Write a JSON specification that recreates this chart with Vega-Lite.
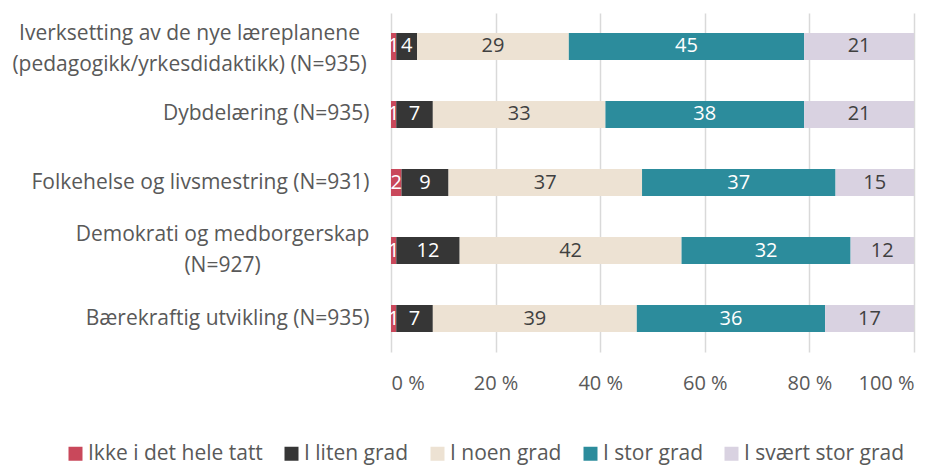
{
  "$schema": "https://vega.github.io/schema/vega-lite/v6.json",
  "width": 523,
  "height": 339,
  "autosize": {"type": "none"},
  "padding": {"left": 391, "top": 13, "right": 33, "bottom": 116},
  "background": "white",
  "config": {"font": "Open Sans", "view": {"stroke": null}},
  "data": {
    "values": [
      {"q": "Iverksetting av de nye læreplanene (pedagogikk/yrkesdidaktikk) (N=935)", "cat": "Ikke i det hele tatt", "k": 1, "pct": 1},
      {"q": "Iverksetting av de nye læreplanene (pedagogikk/yrkesdidaktikk) (N=935)", "cat": "I liten grad", "k": 2, "pct": 4},
      {"q": "Iverksetting av de nye læreplanene (pedagogikk/yrkesdidaktikk) (N=935)", "cat": "I noen grad", "k": 3, "pct": 29},
      {"q": "Iverksetting av de nye læreplanene (pedagogikk/yrkesdidaktikk) (N=935)", "cat": "I stor grad", "k": 4, "pct": 45},
      {"q": "Iverksetting av de nye læreplanene (pedagogikk/yrkesdidaktikk) (N=935)", "cat": "I svært stor grad", "k": 5, "pct": 21},
      {"q": "Dybdelæring (N=935)", "cat": "Ikke i det hele tatt", "k": 1, "pct": 1},
      {"q": "Dybdelæring (N=935)", "cat": "I liten grad", "k": 2, "pct": 7},
      {"q": "Dybdelæring (N=935)", "cat": "I noen grad", "k": 3, "pct": 33},
      {"q": "Dybdelæring (N=935)", "cat": "I stor grad", "k": 4, "pct": 38},
      {"q": "Dybdelæring (N=935)", "cat": "I svært stor grad", "k": 5, "pct": 21},
      {"q": "Folkehelse og livsmestring (N=931)", "cat": "Ikke i det hele tatt", "k": 1, "pct": 2},
      {"q": "Folkehelse og livsmestring (N=931)", "cat": "I liten grad", "k": 2, "pct": 9},
      {"q": "Folkehelse og livsmestring (N=931)", "cat": "I noen grad", "k": 3, "pct": 37},
      {"q": "Folkehelse og livsmestring (N=931)", "cat": "I stor grad", "k": 4, "pct": 37},
      {"q": "Folkehelse og livsmestring (N=931)", "cat": "I svært stor grad", "k": 5, "pct": 15},
      {"q": "Demokrati og medborgerskap (N=927)", "cat": "Ikke i det hele tatt", "k": 1, "pct": 1},
      {"q": "Demokrati og medborgerskap (N=927)", "cat": "I liten grad", "k": 2, "pct": 12},
      {"q": "Demokrati og medborgerskap (N=927)", "cat": "I noen grad", "k": 3, "pct": 42},
      {"q": "Demokrati og medborgerskap (N=927)", "cat": "I stor grad", "k": 4, "pct": 32},
      {"q": "Demokrati og medborgerskap (N=927)", "cat": "I svært stor grad", "k": 5, "pct": 12},
      {"q": "Bærekraftig utvikling (N=935)", "cat": "Ikke i det hele tatt", "k": 1, "pct": 1},
      {"q": "Bærekraftig utvikling (N=935)", "cat": "I liten grad", "k": 2, "pct": 7},
      {"q": "Bærekraftig utvikling (N=935)", "cat": "I noen grad", "k": 3, "pct": 39},
      {"q": "Bærekraftig utvikling (N=935)", "cat": "I stor grad", "k": 4, "pct": 36},
      {"q": "Bærekraftig utvikling (N=935)", "cat": "I svært stor grad", "k": 5, "pct": 17}
    ]
  },
  "encoding": {
    "y": {
      "field": "q",
      "type": "nominal",
      "sort": null,
      "scale": {"paddingInner": 0.603, "paddingOuter": 0.294},
      "axis": {
        "title": null,
        "domain": false,
        "ticks": false,
        "labelFontSize": 21,
        "labelColor": "#595959",
        "labelLimit": 0,
        "labelLineHeight": 31,
        "labelAlign": {
          "condition": {"test": "datum.value == 'Iverksetting av de nye læreplanene (pedagogikk/yrkesdidaktikk) (N=935)' || datum.value == 'Demokrati og medborgerskap (N=927)'", "value": "center"},
          "value": "right"
        },
        "labelPadding": {
          "condition": [
            {"test": "datum.value == 'Iverksetting av de nye læreplanene (pedagogikk/yrkesdidaktikk) (N=935)'", "value": 202},
            {"test": "datum.value == 'Demokrati og medborgerskap (N=927)'", "value": 169}
          ],
          "value": 22
        },
        "labelOffset": {
          "condition": [
            {"test": "datum.value == 'Iverksetting av de nye læreplanene (pedagogikk/yrkesdidaktikk) (N=935)'", "value": -12},
            {"test": "datum.value == 'Demokrati og medborgerskap (N=927)'", "value": -15.5}
          ],
          "value": 0
        },
        "labelExpr": "datum.value == 'Iverksetting av de nye læreplanene (pedagogikk/yrkesdidaktikk) (N=935)' ? ['Iverksetting av de nye læreplanene', '(pedagogikk/yrkesdidaktikk) (N=935)'] : datum.value == 'Demokrati og medborgerskap (N=927)' ? ['Demokrati og medborgerskap', '(N=927)'] : datum.value"
      }
    },
    "x": {
      "field": "pct",
      "type": "quantitative",
      "stack": "normalize",
      "scale": {"domain": [0, 1]},
      "axis": {
        "title": null,
        "domain": false,
        "ticks": false,
        "grid": true,
        "gridColor": "#d9d9d9",
        "gridWidth": 1.5,
        "values": [0, 0.2, 0.4, 0.6, 0.8, 1],
        "labelExpr": "format(datum.value * 100, 'd') + ' %'",
        "labelFontSize": 20,
        "labelColor": "#595959",
        "labelPadding": 21
      }
    },
    "order": {"field": "k", "type": "quantitative"}
  },
  "layer": [
    {
      "mark": {"type": "bar"},
      "encoding": {
        "color": {
          "field": "cat",
          "type": "nominal",
          "scale": {
            "domain": ["Ikke i det hele tatt", "I liten grad", "I noen grad", "I stor grad", "I svært stor grad"],
            "range": ["#C9485B", "#363636", "#EDE2D3", "#2C8C9C", "#D9D2E1"]
          },
          "legend": {
            "title": null,
            "orient": "none",
            "direction": "horizontal",
            "legendX": -326,
            "legendY": 430,
            "padding": 0,
            "symbolType": "square",
            "symbolSize": 196,
            "symbolStrokeWidth": 0,
            "labelFontSize": 21,
            "labelColor": "#595959",
            "labelOffset": 2,
            "columnPadding": 18,
            "labelLimit": 0
          }
        }
      }
    },
    {
      "mark": {"type": "text", "fontSize": 20},
      "encoding": {
        "x": {"field": "pct", "type": "quantitative", "stack": "normalize", "bandPosition": 0.5},
        "detail": {"field": "cat"},
        "text": {"field": "pct", "type": "quantitative"},
        "color": {
          "condition": {"test": "datum.k == 1 || datum.k == 2 || datum.k == 4", "value": "#FFFFFF"},
          "value": "#404040"
        }
      }
    }
  ]
}
